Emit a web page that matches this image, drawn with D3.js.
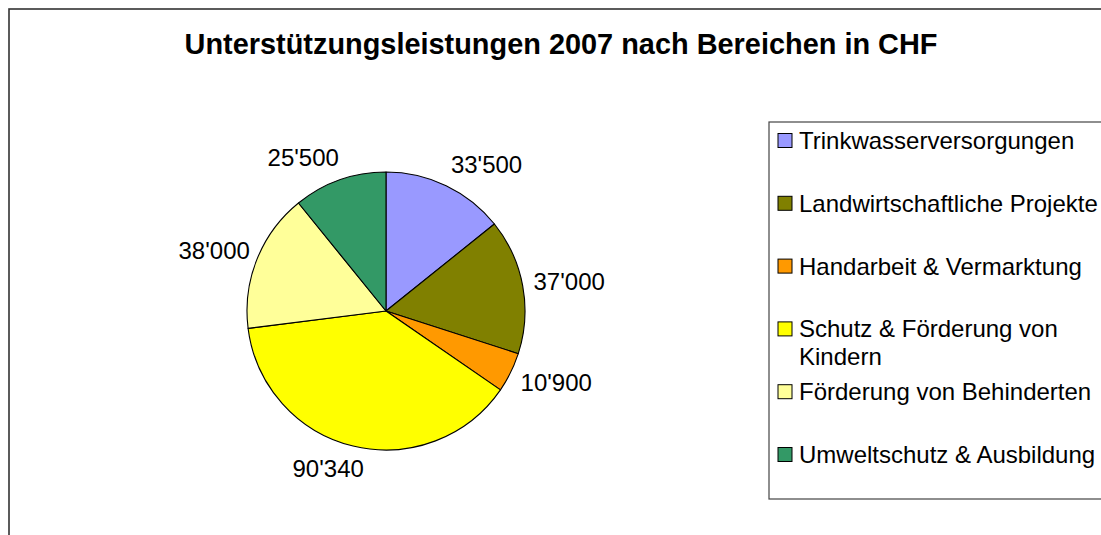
<!DOCTYPE html>
<html>
<head>
<meta charset="utf-8">
<script src="https://cdn.jsdelivr.net/npm/d3@7"></script>
<style>
  html, body { margin: 0; padding: 0; background: #fff; }
  svg { display: block; font-family: "Liberation Sans", Arial, sans-serif; }
</style>
</head>
<body>
<svg id="chart" width="1101" height="535"></svg>
<script>
const title = "Unterstützungsleistungen 2007 nach Bereichen in CHF";
const categories = [
  "Trinkwasserversorgungen",
  "Landwirtschaftliche Projekte",
  "Handarbeit & Vermarktung",
  "Schutz & Förderung von Kindern",
  "Förderung von Behinderten",
  "Umweltschutz & Ausbildung"
];
const values = [33500, 37000, 10900, 90340, 38000, 25500];
const valueLabels = ["33'500", "37'000", "10'900", "90'340", "38'000", "25'500"];
const colors = ["#9999FF", "#808000", "#FF9900", "#FFFF00", "#FFFF99", "#339966"];

const svg = d3.select("#chart");
const W = 1101, H = 535;

svg.append("rect").attr("width", W).attr("height", H).attr("fill", "#fff");

// outer chart frame (extends beyond the right and bottom of the picture)
svg.append("rect")
  .attr("x", 9).attr("y", 9)
  .attr("width", W + 20).attr("height", H + 20)
  .attr("fill", "none").attr("stroke", "#333").attr("stroke-width", 1.6);

// title
svg.append("text")
  .attr("x", 561).attr("y", 54)
  .attr("text-anchor", "middle")
  .attr("font-size", 28.9).attr("font-weight", "bold")
  .attr("fill", "#000")
  .text(title);

// pie
const cx = 386, cy = 311, r = 139;
const data = categories.map((c, i) => ({ name: c, value: values[i], label: valueLabels[i], color: colors[i] }));
const pie = d3.pie().value(d => d.value).sort(null);
const arcs = pie(data);
const arc = d3.arc().innerRadius(0).outerRadius(r);

const g = svg.append("g").attr("transform", `translate(${cx},${cy})`);
g.selectAll("path.slice")
  .data(arcs)
  .join("path")
  .attr("class", "slice")
  .attr("d", arc)
  .attr("fill", d => d.data.color)
  .attr("stroke", "#000")
  .attr("stroke-width", 1.1)
  .attr("stroke-linejoin", "round");

// data labels outside the pie
const labelFont = 24;
const labelR = r + 11;
g.selectAll("text.vlabel")
  .data(arcs)
  .join("text")
  .attr("class", "vlabel")
  .attr("font-size", labelFont)
  .attr("fill", "#000")
  .attr("text-anchor", "middle")
  .text(d => d.data.label)
  .each(function(d) {
    const t = d3.select(this);
    const w = this.getComputedTextLength();
    const a = (d.startAngle + d.endAngle) / 2;
    const s = Math.sin(a), c = Math.cos(a);
    const px = labelR * s, py = -labelR * c;
    const dx = (w / 2) * Math.max(-1, Math.min(1, s * 3));
    const dy = -12.5 * c;
    t.attr("x", px + dx + (s < 0 ? 3 : 0)).attr("y", py + dy + labelFont * 0.716 / 2);
  });

// legend
const legendX = 769, legendY = 122, legendBottom = 499;
svg.append("rect")
  .attr("x", legendX).attr("y", legendY)
  .attr("width", W + 20 - legendX).attr("height", legendBottom - legendY)
  .attr("fill", "#fff").attr("stroke", "#444").attr("stroke-width", 1.2);

const rowY = d3.scaleLinear().domain([0, categories.length - 1]).range([149, 463]);
const legend = svg.append("g");
const items = legend.selectAll("g.item")
  .data(data)
  .join("g")
  .attr("class", "item")
  .attr("transform", (d, i) => `translate(0,${rowY(i)})`);

items.append("rect")
  .attr("x", 778).attr("y", -15.5)
  .attr("width", 14).attr("height", 14)
  .attr("fill", d => d.color)
  .attr("stroke", "#000").attr("stroke-width", 1);

const maxW = 305;
items.append("text")
  .attr("x", 799).attr("y", 0)
  .attr("font-size", 24)
  .attr("fill", "#000")
  .each(function(d) {
    const t = d3.select(this);
    const words = d.name.split(" ");
    let line = [];
    let tspan = t.append("tspan").attr("x", 799).attr("dy", 0);
    words.forEach(word => {
      line.push(word);
      tspan.text(line.join(" "));
      if (tspan.node().getComputedTextLength() > maxW && line.length > 1) {
        line.pop();
        tspan.text(line.join(" "));
        line = [word];
        tspan = t.append("tspan").attr("x", 799).attr("dy", 28).text(word);
      }
    });
  });
</script>
</body>
</html>
